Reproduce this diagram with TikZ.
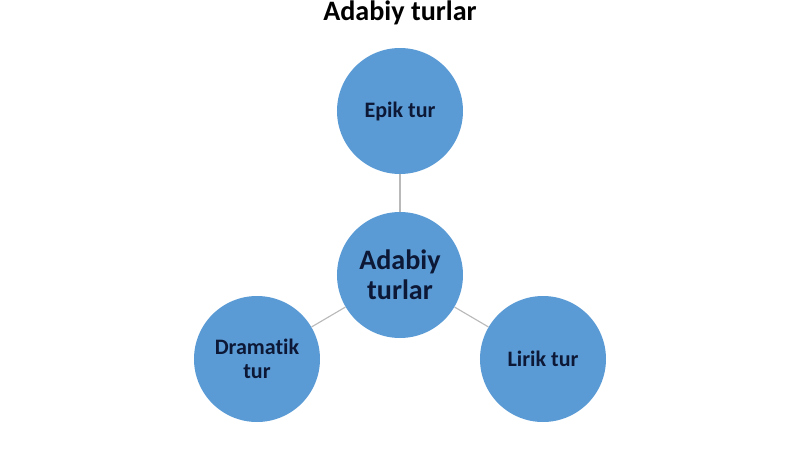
\documentclass[tikz,border=0pt]{standalone}
\usepackage{fontspec}
\setmainfont[Ligatures=NoCommon]{Carlito}
\usetikzlibrary{shapes.geometric}
\definecolor{turblue}{HTML}{5B9BD5}
\definecolor{turtext}{HTML}{0C1836}
\tikzstyle{link} = [draw=gray!55, line width=0.8pt]
\tikzstyle{turcircle} = [circle, minimum size=3.15cm, inner sep=0pt, text centered, align=center, fill=turblue, text=turtext, font=\bfseries\fontsize{15.7}{17}\selectfont]

\begin{document}
\begin{tikzpicture}[node distance=4.1cm]
\useasboundingbox (-10,2.775) rectangle (10,-8.45);
\node (title) at (0,2.45) [font=\bfseries\fontsize{20}{22}\selectfont] {Adabiy turlar};
\node (epik) [turcircle] {Epik tur};
\node (adabiy) [turcircle, below of = epik, font=\bfseries\fontsize{20}{21.5}\selectfont] {Adabiy\\turlar};
\node (drama) [turcircle, below of = adabiy, yshift=2cm, xshift=-3.575cm] {Dramatik\\tur};
\node (lirik) [turcircle, below of = adabiy, yshift=2cm, xshift=3.575cm] {Lirik tur};
\draw [link] (epik) -- (adabiy);
\draw [link] (adabiy) -- (drama);
\draw [link] (adabiy) -- (lirik);
\end{tikzpicture}
\end{document}
